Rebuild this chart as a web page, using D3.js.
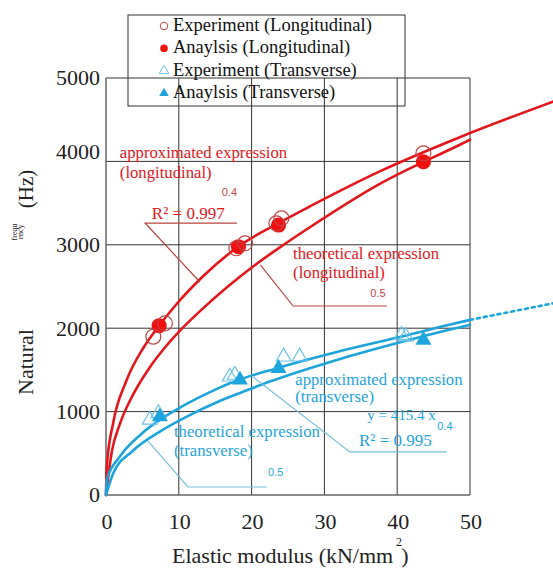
<!DOCTYPE html>
<html>
<head>
<meta charset="utf-8">
<script src="https://cdn.jsdelivr.net/npm/d3@7"></script>
<style>
  body { margin: 0; background: #fff; }
  svg { display: block; }
</style>
</head>
<body>
<div id="chart"></div>
<script>
// ticks
const xTicks = [0, 10, 20, 30, 40, 50];
const yTicks = [0, 1000, 2000, 3000, 4000, 5000];

const legendLabels = [
    "Experiment (Longitudinal)",
    "Anaylsis (Longitudinal)",
    "Experiment (Transverse)",
    "Anaylsis (Transverse)"
];

// measured points [E, f]
const experimentLong = [[6.5, 1898], [8.1, 2058], [17.9, 2958], [19.1, 3018], [23.4, 3258], [24.1, 3318], [43.6, 4097]];
const analysisLong = [[7.3, 2030], [18.2, 2977], [23.7, 3237], [43.6, 3996]];
const experimentTrans = [[6.0, 900], [7.2, 980], [17.0, 1418], [17.7, 1439], [24.4, 1658], [26.6, 1658], [40.6, 1918], [41.2, 1900]];
const analysisTrans = [[7.4, 939], [18.4, 1379], [23.7, 1519], [43.6, 1858]];

// curves
const approxLong = [[0, 0], [0.1, 340], [1, 870], [2.8, 1370], [5.1, 1760], [7.3, 2030], [9.7, 2290], [13.3, 2620], [18.2, 2980], [23.7, 3260], [28, 3460], [37.6, 3880], [48.6, 4290], [61.4, 4716]];
const theoLong = [[0, 0], [0.8, 520], [1.9, 850], [3.7, 1200], [6.0, 1530], [8.3, 1790], [10.6, 2010], [13.1, 2220], [20.2, 2740], [24.4, 3000], [28, 3210], [37.6, 3730], [48.6, 4200], [50, 4260]];
const approxTrans = [[0, 0], [0.1, 180], [1.9, 460], [4.7, 720], [7.9, 930], [10.2, 1050], [15.7, 1290], [17, 1340], [23.9, 1530], [28, 1630], [31.7, 1715], [39.9, 1885], [47.3, 2045], [50, 2100]];
const approxTransExt = [[50, 2100], [61.4, 2298]];
const theoTrans = [[0, 0], [1, 260], [3.7, 530], [7.4, 760], [11.1, 940], [15.7, 1130], [19.8, 1270], [22.5, 1360], [31.7, 1620], [39.9, 1820], [47.3, 1985], [50, 2040]];

const width = 553, height = 568;
const red = "#e3161b", redDark = "#c04646", redLeader = "#b8463f";
const blue = "#1ea4dc", blueLight = "#6cc4e8", blueLeader = "#74bfdc";
const serif = "'Liberation Serif', 'Times New Roman', serif";
const narrow = "'Liberation Sans Narrow', 'Liberation Sans', sans-serif";

const svg = d3.select("#chart").append("svg")
    .attr("width", width)
    .attr("height", height);

const x = d3.scaleLinear().domain([0, 50]).range([106, 470]);
const y = d3.scaleLinear().domain([0, 5000]).range([495, 78]);

// grid
const grid = svg.append("g");
grid.selectAll(".vgrid")
    .data(xTicks.slice(1))
    .enter().append("line")
    .attr("x1", d => x(d)).attr("x2", d => x(d))
    .attr("y1", y(5000)).attr("y2", y(0))
    .style("stroke", "#333").style("stroke-width", "1px");
grid.selectAll(".hgrid")
    .data(yTicks.slice(1))
    .enter().append("line")
    .attr("x1", x(0)).attr("x2", x(50))
    .attr("y1", d => y(d)).attr("y2", d => y(d))
    .style("stroke", "#333").style("stroke-width", "1px");

// axes lines (left + bottom are greyer)
svg.append("line")
    .attr("x1", x(0)).attr("x2", x(0)).attr("y1", y(5000)).attr("y2", y(0))
    .style("stroke", "#666").style("stroke-width", "1.5px");
svg.append("line")
    .attr("x1", x(0)).attr("x2", x(50)).attr("y1", y(0)).attr("y2", y(0))
    .style("stroke", "#666").style("stroke-width", "1.5px");

// tick labels
svg.selectAll(".ylab")
    .data(yTicks)
    .enter().append("text")
    .attr("x", 100)
    .attr("y", d => y(d) + (d === 4000 ? -10 : 0))
    .attr("dy", "0.34em")
    .style("text-anchor", "end")
    .style("font-family", serif)
    .style("font-size", "22px")
    .style("fill", "#222")
    .text(d => d);

svg.selectAll(".xlab")
    .data(xTicks)
    .enter().append("text")
    .attr("x", d => x(d) + 1)
    .attr("y", 529)
    .style("text-anchor", "middle")
    .style("font-family", serif)
    .style("font-size", "22px")
    .style("fill", "#222")
    .text(d => d);

// axis titles
const xTitle = svg.append("text")
    .attr("x", 172).attr("y", 563)
    .style("font-family", serif).style("font-size", "22px").style("fill", "#222");
xTitle.append("tspan").text("Elastic modulus (kN/mm");
xTitle.append("tspan").attr("dx", 8).text(")");
svg.append("text")
    .attr("x", 396).attr("y", 546)
    .style("font-family", serif).style("font-size", "12px").style("fill", "#222")
    .text("2");

const yTitle = (label, cx, cy, size) => svg.append("text")
    .attr("transform", `translate(${cx},${cy}) rotate(-90)`)
    .style("text-anchor", "middle")
    .style("font-family", serif)
    .style("font-size", size)
    .style("fill", "#222")
    .text(label);
yTitle("Natural", 33, 362, "22px");
yTitle("(Hz)", 33, 189, "21px");
yTitle("frequ", 17, 232, "8px");
yTitle("ency", 23, 232, "8px");

// curves
const line = d3.line()
    .x(d => x(d[0]))
    .y(d => y(d[1]))
    .curve(d3.curveMonotoneX);

const drawCurve = (data, color, dash) => svg.append("path")
    .attr("d", line(data))
    .style("fill", "none")
    .style("stroke", color)
    .style("stroke-width", "2.6px")
    .style("stroke-linecap", "round")
    .style("stroke-dasharray", dash || null);

drawCurve(theoLong, red);
drawCurve(approxLong, red);
drawCurve(theoTrans, blue);
drawCurve(approxTrans, blue);
drawCurve(approxTransExt, blue, "3,4");

// leader lines + annotation text
const leader = (pts, color) => svg.append("path")
    .attr("d", d3.line().x(d => x(d[0])).y(d => y(d[1]))(pts))
    .style("fill", "none")
    .style("stroke", color)
    .style("stroke-width", "1.2px");

const note = (str, ex, fy, color, size, font) => svg.append("text")
    .attr("x", x(ex)).attr("y", y(fy))
    .style("font-family", font || serif)
    .style("font-size", size)
    .style("fill", color)
    .text(str);

leader([[12.9, 2554], [5.36, 3261], [18.0, 3261]], redLeader);
leader([[21.2, 2758], [25.7, 2266], [38.6, 2266]], redLeader);
leader([[20.2, 1415], [33.5, 516], [46.8, 516]], blueLeader);
leader([[5.77, 647], [11.26, 96], [22.1, 96]], blueLeader);

note("approximated expression", 1.9, 4041, red, "16.7px");
note("(longitudinal)", 1.9, 3795, red, "16.7px");
note("0.4", 15.9, 3585, redDark, "11px", narrow);
note("R² = 0.997", 6.3, 3309, red, "17px");

note("theoretical expression", 25.7, 2830, red, "16.7px");
note("(longitudinal)", 25.7, 2600, red, "16.7px");
note("0.5", 36.3, 2374, redDark, "11px", narrow);

note("approximated expression", 26.0, 1319, blue, "16.7px");
note("(transverse)", 26.0, 1115, blue, "16.7px");
note("y = 415.4 x", 35.9, 899, blue, "15px");
note("0.4", 45.5, 779, blue, "11px", narrow);
note("R² = 0.995", 34.75, 588, blue, "17px");

note("theoretical expression", 9.34, 695, blue, "16.7px");
note("(transverse)", 9.34, 468, blue, "16.7px");
note("0.5", 22.25, 228, blue, "11px", narrow);

// markers
const circle = d3.symbol().type(d3.symbolCircle);
const triangle = d3.symbol().type(d3.symbolTriangle);

svg.append("g").selectAll("path")
    .data(experimentTrans)
    .enter().append("path")
    .attr("transform", d => `translate(${x(d[0])},${y(d[1])})`)
    .attr("d", triangle.size(95)())
    .style("fill", "none")
    .style("stroke", blueLight)
    .style("stroke-width", "1.2px");

svg.append("g").selectAll("path")
    .data(analysisTrans)
    .enter().append("path")
    .attr("transform", d => `translate(${x(d[0])},${y(d[1])})`)
    .attr("d", triangle.size(110)())
    .style("fill", blue);

svg.append("g").selectAll("path")
    .data(analysisLong)
    .enter().append("path")
    .attr("transform", d => `translate(${x(d[0])},${y(d[1])})`)
    .attr("d", circle.size(180)())
    .style("fill", "#f01010");

svg.append("g").selectAll("path")
    .data(experimentLong)
    .enter().append("path")
    .attr("transform", d => `translate(${x(d[0])},${y(d[1])})`)
    .attr("d", circle.size(175)())
    .style("fill", "none")
    .style("stroke", redDark)
    .style("stroke-width", "1.2px");

// legend
const legend = svg.append("g").attr("transform", "translate(128,15)");
legend.append("rect")
    .attr("width", 277).attr("height", 91)
    .style("fill", "none")
    .style("stroke", "#333")
    .style("stroke-width", "1px");

const legendMarks = [
    { type: d3.symbolCircle, fill: "none", stroke: redDark, size: 45 },
    { type: d3.symbolCircle, fill: "#f01010", stroke: "none", size: 45 },
    { type: d3.symbolTriangle, fill: "none", stroke: blueLight, size: 40 },
    { type: d3.symbolTriangle, fill: blue, stroke: "none", size: 40 }
];

const row = legend.selectAll(".row")
    .data(legendLabels)
    .enter().append("g")
    .attr("transform", (d, i) => `translate(0,${16 + i * 22.4})`);

row.append("path")
    .attr("transform", "translate(36,-5)")
    .attr("d", (d, i) => d3.symbol().type(legendMarks[i].type).size(legendMarks[i].size)())
    .style("fill", (d, i) => legendMarks[i].fill)
    .style("stroke", (d, i) => legendMarks[i].stroke)
    .style("stroke-width", "1px");

row.append("text")
    .attr("x", 45)
    .style("font-family", serif)
    .style("font-size", "18.5px")
    .style("fill", "#111")
    .text(d => d);
</script>
</body>
</html>
